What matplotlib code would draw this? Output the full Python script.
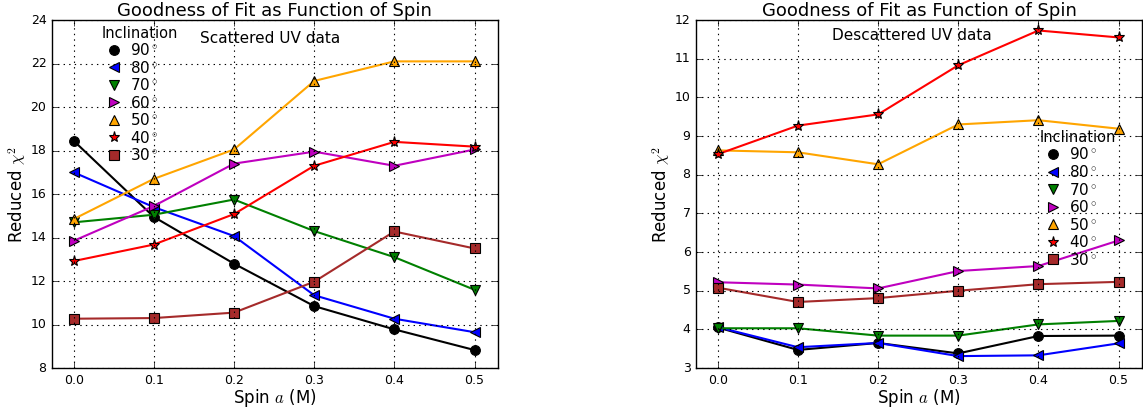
import matplotlib.pyplot as plt
from matplotlib.lines import Line2D

plt.style.use('classic')

spin = [0.0, 0.1, 0.2, 0.3, 0.4, 0.5]
incl_labels = ['90$^\\circ$', '80$^\\circ$', '70$^\\circ$', '60$^\\circ$',
               '50$^\\circ$', '40$^\\circ$', '30$^\\circ$']

# scattered UV data
scat_90 = [18.45, 14.95, 12.8, 10.85, 9.78, 8.83]
scat_80 = [17.0, 15.4, 14.07, 11.35, 10.27, 9.65]
scat_70 = [14.7, 15.05, 15.75, 14.3, 13.1, 11.6]
scat_60 = [13.85, 15.45, 17.4, 17.95, 17.3, 18.05]
scat_50 = [14.85, 16.7, 18.05, 21.2, 22.1, 22.1]
scat_40 = [12.92, 13.68, 15.08, 17.3, 18.4, 18.18]
scat_30 = [10.27, 10.3, 10.55, 11.97, 14.28, 13.5]

# descattered UV data
desc_90 = [4.05, 3.47, 3.65, 3.38, 3.83, 3.84]
desc_80 = [4.06, 3.54, 3.65, 3.31, 3.33, 3.64]
desc_70 = [4.03, 4.03, 3.84, 3.84, 4.13, 4.22]
desc_60 = [5.22, 5.16, 5.06, 5.51, 5.64, 6.3]
desc_50 = [8.63, 8.58, 8.27, 9.3, 9.41, 9.19]
desc_40 = [8.53, 9.27, 9.56, 10.83, 11.73, 11.55]
desc_30 = [5.08, 4.71, 4.81, 5.0, 5.17, 5.23]

colors = ['black', 'blue', 'green', 'm', 'orange', 'red', 'brown']
markers = ['o', '<', 'v', '>', '^', '*', 's']
sizes = [7, 7, 7, 7, 7, 8, 7]

fig = plt.figure(figsize=(11.43, 4.09), dpi=100, facecolor='white')
ax1 = fig.add_axes([0.0455, 0.1, 0.39, 0.851])
ax2 = fig.add_axes([0.609, 0.1, 0.39, 0.851])


def draw(ax, series, note, note_xy, leg_anchor, ylim, yticks):
    for vals, c, m, s in zip(series, colors, markers, sizes):
        ax.plot(spin, vals, color=c, lw=1.5, marker=m, markersize=s,
                markerfacecolor=c, markeredgecolor='black', markeredgewidth=0.8)
    handles = [Line2D([], [], ls='none', marker=m, color=c, markersize=s,
                      markeredgecolor='black', markeredgewidth=0.8)
               for c, m, s in zip(colors, markers, sizes)]
    leg = ax.legend(handles, incl_labels, title='Inclination', loc='upper left',
                    bbox_to_anchor=leg_anchor, frameon=False, numpoints=1,
                    fontsize=11, labelspacing=0.1, handletextpad=0.2,
                    handlelength=1.7, borderpad=0.2, alignment='left')
    leg.get_title().set_fontsize(10.5)
    ax.text(note_xy[0], note_xy[1], note, transform=ax.transAxes,
            ha='center', va='center', fontsize=11)
    ax.set_xlim(-0.027, 0.529)
    ax.set_ylim(*ylim)
    ax.set_yticks(yticks)
    ax.set_xticks(spin)
    ax.tick_params(labelsize=9)
    ax.grid(True, linestyle=':', color='black', linewidth=0.8)
    ax.set_title('Goodness of Fit as Function of Spin', fontsize=13, pad=3)
    ax.set_xlabel('Spin $a$ (M)', fontsize=12, labelpad=0)
    ax.set_ylabel('Reduced $\\chi^2$', fontsize=12, labelpad=2)


draw(ax1, [scat_90, scat_80, scat_70, scat_60, scat_50, scat_40, scat_30],
     'Scattered UV data', (0.49, 0.948), (0.0865, 1.015),
     (8, 24), range(8, 25, 2))
draw(ax2, [desc_90, desc_80, desc_70, desc_60, desc_50, desc_40, desc_30],
     'Descattered UV data', (0.484, 0.957), (0.747, 0.715),
     (3, 12), range(3, 13))

fig.savefig('out.png', dpi=100, facecolor='white')
